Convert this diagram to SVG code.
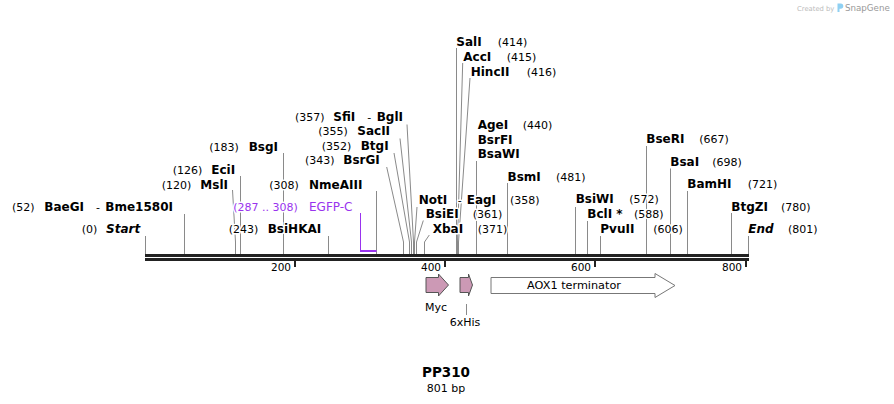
<svg xmlns="http://www.w3.org/2000/svg" width="894" height="404" viewBox="0 0 894 404">
<style>
text{font-family:"DejaVu Sans",Verdana,sans-serif;fill:#000}
.lab text{stroke:#fff;stroke-width:3;paint-order:stroke;stroke-linejoin:round}
.n{font-size:12px;font-weight:bold}
.i{font-size:12px;font-weight:bold;font-style:italic}
.p{font-size:11px}
.pu{fill:#9933ee}
.cut path,.cut line{stroke:#8a8a8a;stroke-width:1;fill:none}
.tk{font-size:10.5px;text-anchor:end}
.ft{font-size:11px}
</style>
<rect width="894" height="404" fill="#fff"/>

<!-- watermark -->
<g id="watermark">
<text x="797" y="10.5" style="font-size:6.8px;fill:#bbb">Created by</text>
<path d="M837.5 3.5h3.2a2.6 2.6 0 0 1 0 5.2h-1.2v3.3h-2z" fill="#8fd0f2"/>
<text x="845" y="11" style="font-size:8.7px;fill:#999">SnapGene</text>
</g>

<!-- connectors -->
<g id="connectors" class="cut">
<line x1="145.5" y1="236" x2="145.5" y2="254"/>
<line x1="184.5" y1="214" x2="184.5" y2="254"/>
<path d="M232.5 190L235.5 242V254"/>
<line x1="240.5" y1="176" x2="240.5" y2="254"/>
<line x1="283.5" y1="153" x2="283.5" y2="254"/>
<line x1="328.5" y1="236" x2="328.5" y2="254"/>
<line x1="376.5" y1="191" x2="376.5" y2="254"/>
<path d="M386.7 167L403.5 242V254"/>
<path d="M394 153L409.5 242V254"/>
<path d="M400 138.5L411.5 242V254"/>
<path d="M407 124.5L413.5 242V254"/>
<path d="M417 207L414.5 242V254"/>
<path d="M423.3 220.5L416.5 242V254"/>
<path d="M429.3 235L424.5 242V254"/>
<line x1="456.5" y1="48" x2="456.5" y2="254"/>
<path d="M462.7 63L457.5 242V254"/>
<path d="M470 78L458.5 242V254"/>
<line x1="476.5" y1="161" x2="476.5" y2="254"/>
<line x1="507.5" y1="183" x2="507.5" y2="254"/>
<line x1="575.5" y1="207" x2="575.5" y2="254"/>
<line x1="587.5" y1="221" x2="587.5" y2="254"/>
<line x1="600.5" y1="236" x2="600.5" y2="254"/>
<line x1="646.5" y1="146" x2="646.5" y2="254"/>
<line x1="670.5" y1="168.5" x2="670.5" y2="254"/>
<line x1="687.5" y1="191" x2="687.5" y2="254"/>
<line x1="731.5" y1="213" x2="731.5" y2="254"/>
<line x1="748.5" y1="236" x2="748.5" y2="254"/>
<line x1="466.5" y1="304" x2="466.5" y2="315"/>
</g>

<!-- EGFP-C bracket -->
<g id="egfp-bracket">
<line x1="360.5" y1="213" x2="360.5" y2="252" stroke="#9933ee" stroke-width="1"/>
<rect x="360" y="250" width="16.5" height="2" fill="#9933ee"/>
</g>

<!-- backbone -->
<g id="backbone">
<rect x="145" y="254" width="604" height="3" fill="#222"/>
<rect x="145" y="258" width="604" height="3" fill="#222"/>
<rect x="294" y="261" width="2" height="6" fill="#222"/>
<rect x="444" y="261" width="2" height="6" fill="#222"/>
<rect x="594" y="261" width="2" height="6" fill="#222"/>
<rect x="745" y="261" width="2" height="6" fill="#222"/>
<text class="tk" x="291" y="271">200</text>
<text class="tk" x="441" y="271">400</text>
<text class="tk" x="591" y="271">600</text>
<text class="tk" x="742" y="271">800</text>
</g>

<!-- labels -->
<g class="lab">
<g id="start"><text class="p" x="81.7" y="233.3">(0)</text><text class="i" x="106" y="233.3">Start</text></g>
<g id="baegi"><text class="p" x="12" y="211">(52)</text><text class="n" x="44.3" y="211">BaeGI</text><text class="p" x="96" y="211">-</text><text class="n" x="105.3" y="211">Bme1580I</text></g>
<g id="msli"><text class="p" x="161.7" y="189">(120)</text><text class="n" x="200.3" y="189">MslI</text></g>
<g id="ecii"><text class="p" x="172.7" y="174">(126)</text><text class="n" x="211.3" y="174">EciI</text></g>
<g id="bsgi"><text class="p" x="209.3" y="151">(183)</text><text class="n" x="248.7" y="151">BsgI</text></g>
<g id="bsihkai"><text class="p" x="228.7" y="233.3">(243)</text><text class="n" x="267.7" y="233.3">BsiHKAI</text></g>
<g id="egfp"><text class="p pu" x="233.3" y="211">(287 .. 308)</text><text class="pu" x="309" y="211" style="font-size:12px">EGFP-C</text></g>
<g id="nmeaiii"><text class="p" x="269.3" y="189">(308)</text><text class="n" x="309" y="189">NmeAIII</text></g>
<g id="bsrgi"><text class="p" x="305" y="164.3">(343)</text><text class="n" x="343.3" y="164.3">BsrGI</text></g>
<g id="btgi"><text class="p" x="321.7" y="150">(352)</text><text class="n" x="360.7" y="150">BtgI</text></g>
<g id="sacii"><text class="p" x="318.3" y="135.3">(355)</text><text class="n" x="357.3" y="135.3">SacII</text></g>
<g id="sfii"><text class="p" x="295" y="120.7">(357)</text><text class="n" x="333.3" y="120.7">SfiI</text><text class="p" x="367.3" y="120.7">-</text><text class="n" x="376.7" y="120.7">BglI</text></g>
<g id="noti"><text class="n" x="418.7" y="204">NotI</text><text class="p" x="457.7" y="204">-</text><text class="n" x="466.7" y="204">EagI</text><text class="p" x="510" y="204">(358)</text></g>
<g id="bsiei"><text class="n" x="425.7" y="218.3">BsiEI</text><text class="p" x="472.7" y="218.3">(361)</text></g>
<g id="xbai"><text class="n" x="432.7" y="233.3">XbaI</text><text class="p" x="477.7" y="233.3">(371)</text></g>
<g id="sali"><text class="n" x="456.3" y="45.7">SalI</text><text class="p" x="497.7" y="45.7">(414)</text></g>
<g id="acci"><text class="n" x="463.3" y="60.7">AccI</text><text class="p" x="506.7" y="60.7">(415)</text></g>
<g id="hincii"><text class="n" x="470.7" y="75.7">HincII</text><text class="p" x="526.7" y="75.7">(416)</text></g>
<g id="agei"><text class="n" x="477.7" y="128.7">AgeI</text><text class="p" x="522.7" y="128.7">(440)</text><text class="n" x="477.7" y="143.5">BsrFI</text><text class="n" x="477.7" y="158.3">BsaWI</text></g>
<g id="bsmi"><text class="n" x="507.5" y="180.5">BsmI</text><text class="p" x="556" y="180.5">(481)</text></g>
<g id="bsiwi"><text class="n" x="575.7" y="203.3">BsiWI</text><text class="p" x="629.3" y="203.3">(572)</text></g>
<g id="bcli"><text class="n" x="587.3" y="218.3">BclI *</text><text class="p" x="634" y="218.3">(588)</text></g>
<g id="pvuii"><text class="n" x="600.3" y="233.3">PvuII</text><text class="p" x="653.3" y="233.3">(606)</text></g>
<g id="bseri"><text class="n" x="646.3" y="143.3">BseRI</text><text class="p" x="699.3" y="143.3">(667)</text></g>
<g id="bsai"><text class="n" x="670.3" y="165.7">BsaI</text><text class="p" x="712.3" y="165.7">(698)</text></g>
<g id="bamhi"><text class="n" x="687.3" y="188.3">BamHI</text><text class="p" x="747.7" y="188.3">(721)</text></g>
<g id="btgzi"><text class="n" x="731.3" y="210.7">BtgZI</text><text class="p" x="781" y="210.7">(780)</text></g>
<g id="end"><text class="i" x="748.3" y="233.3">End</text><text class="p" x="788" y="233.3">(801)</text></g>
</g>

<!-- features -->
<g id="myc">
<polygon points="426,277.5 438.5,277.5 438.5,274 448.5,285 438.5,296 438.5,292.5 426,292.5" fill="#cc99b5" stroke="#555" stroke-width="1"/>
<text class="ft" x="436" y="311" text-anchor="middle">Myc</text>
</g>
<g id="his6">
<polygon points="460,277.5 468.5,277.5 468.5,274 472.5,285 468.5,296 468.5,292.5 460,292.5" fill="#cc99b5" stroke="#555" stroke-width="1"/>
<text class="ft" x="465" y="326" text-anchor="middle">6xHis</text>
</g>
<g id="aox1">
<polygon points="491,277.5 655,277.5 655,273.5 675,285.5 655,297.5 655,293.5 491,293.5" fill="#fff" stroke="#777" stroke-width="1"/>
<text x="574" y="289" text-anchor="middle" style="font-size:11.25px">AOX1 terminator</text>
</g>

<!-- title -->
<g id="title">
<text x="446" y="377.3" text-anchor="middle" style="font-size:13.5px;font-weight:bold">PP310</text>
<text x="446" y="391.5" text-anchor="middle" style="font-size:11px">801 bp</text>
</g>
</svg>
